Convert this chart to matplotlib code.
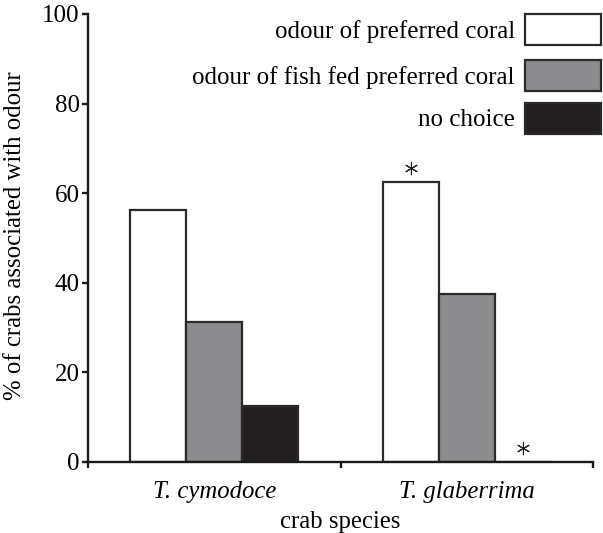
import matplotlib
matplotlib.use("Agg")
import matplotlib.pyplot as plt
from matplotlib.patches import Rectangle
import numpy as np

plt.rcParams['font.family'] = ['Liberation Serif', 'DejaVu Serif']

species = ["T. cymodoce", "T. glaberrima"]
series_names = ["odour of preferred coral", "odour of fish fed preferred coral", "no choice"]
values = {
    "odour of preferred coral": [56.25, 62.5],
    "odour of fish fed preferred coral": [31.25, 37.5],
    "no choice": [12.5, 0.0],
}
colors = ["#ffffff", "#8c8c8f", "#231f20"]
yticks = [0, 20, 40, 60, 80, 100]
# significance markers: (species index, series index)
stars = [(1, 0), (1, 2)]

W, H = 603, 533
fig = plt.figure(figsize=(W / 100, H / 100), dpi=100)
ax_l, ax_r, ax_b, ax_t = 88, 593, 462, 14
ax = fig.add_axes([ax_l / W, 1 - ax_b / H, (ax_r - ax_l) / W, (ax_b - ax_t) / H])

centers = np.arange(len(species)) + 0.5
width = 0.222
edge = "#2a2a2a"
for i, name in enumerate(series_names):
    ax.bar(centers + (i - 1) * width, values[name], width,
           color=colors[i], edgecolor=edge, linewidth=1.6, zorder=2)

for si, ci in stars:
    v = values[series_names[ci]][si]
    ax.plot(centers[si] + (ci - 1) * width, v + 3.1, marker=(6, 2, 0),
            markersize=9.5, markeredgewidth=0.8, color="#222222",
            clip_on=False, zorder=4)

ax.set_xlim(0, 2)
ax.set_ylim(0, 100)
ax.set_yticks(yticks)
ax.set_yticklabels([str(t) for t in yticks], fontsize=18)
ax.set_xticks([0, 1, 2])
ax.set_xticklabels([])

for xc, s in zip(centers, species):
    xpix = ax_l + xc / 2 * (ax_r - ax_l)
    fig.text(xpix / W, 1 - 492 / H, s, ha="center", va="center",
             fontsize=17.8, style="italic")

ax.spines['top'].set_visible(False)
ax.spines['right'].set_visible(False)
for sp in ['left', 'bottom']:
    ax.spines[sp].set_linewidth(1.7)
    ax.spines[sp].set_color("#1a1a1a")
    ax.spines[sp].set_zorder(3)
ax.tick_params(axis='both', direction='out', length=4.5, width=1.7, color="#1a1a1a")
ax.tick_params(axis='y', pad=1.5)

ax.set_ylabel("% of crabs associated with odour", fontsize=17.8, va="center")
ax.yaxis.set_label_coords((15 - ax_l) / (ax_r - ax_l), 0.505)
fig.text(((ax_l + ax_r) / 2) / W, 1 - 522 / H, "crab species", ha="center",
         va="center", fontsize=17.8)

# legend drawn manually in figure pixels
boxes = [(525, 14), (525, 60), (525, 103)]
for (bx, by), col, name in zip(boxes, colors, series_names):
    bw, bh = 76, 31
    rect = Rectangle((bx / W, 1 - (by + bh) / H), bw / W, bh / H,
                     transform=fig.transFigure, facecolor=col,
                     edgecolor=edge, linewidth=1.6)
    fig.patches.append(rect)
    fig.text(515 / W, 1 - (by + bh / 2 + 2) / H, name, ha="right", va="center",
             fontsize=18)

fig.savefig("out.png", dpi=100)
